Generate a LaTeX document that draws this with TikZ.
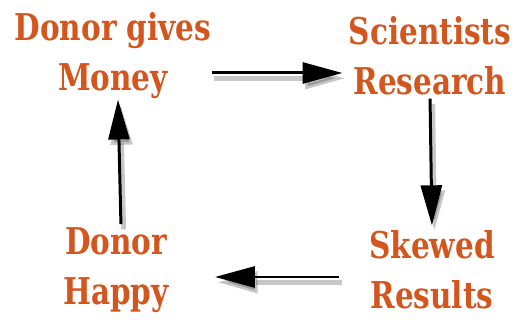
\documentclass[tikz,border=0pt]{standalone}
\usepackage{fontspec}
\setmainfont{DejaVu Serif}
\usetikzlibrary{arrows.meta}

\definecolor{rust}{HTML}{D2561E}

\tikzset{
    cycletext/.style={text=rust, font=\fontsize{21}{28.5}\selectfont\bfseries,
        align=center, inner sep=0pt, xscale=0.8, transform shape},
    cyclearrow/.style={-{Triangle[length=0.8cm,width=0.42cm]}, line width=1.7pt,
        preaction={draw=black, opacity=0.22, line width=2.8pt,
            transform canvas={xshift=1.5pt,yshift=-3pt}}},
}

\begin{document}
\begin{tikzpicture}[x=0.02cm, y=0.02cm]
    \useasboundingbox (0,0) rectangle (519,320);

    % Labels
    \node[cycletext] (money) at (113,264) {Donor gives\\Money};
    \node[cycletext] (research) at (430,264) {Scientists\\Research};
    \node[cycletext] (results) at (432,50) {Skewed\\Results};
    \node[cycletext] (happy) at (116,50) {Donor\\Happy};

    % Arrows round the cycle
    \draw[cyclearrow, shorten >=0.12cm] ([yshift=-0.34cm]money.east) -- ([yshift=-0.34cm]research.west);
    \draw[cyclearrow, shorten <=0.06cm, shorten >=0.1cm] (research.south) -- (results.north);
    \draw[cyclearrow, shorten <=0.6cm, shorten >=0.92cm] ([yshift=-0.14cm]results.west) -- ([yshift=-0.14cm]happy.east);
    \draw[cyclearrow, shorten <=0.06cm] ([xshift=0.1cm]happy.north) -- ([xshift=0.1cm]money.south);
\end{tikzpicture}
\end{document}
